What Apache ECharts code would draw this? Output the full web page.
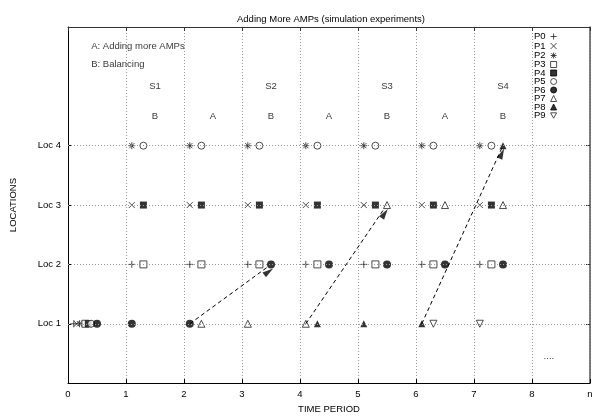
<!DOCTYPE html>
<html>
<head>
<meta charset="utf-8">
<script src="https://cdn.jsdelivr.net/npm/echarts@6/dist/echarts.min.js"></script>
<style>html,body{margin:0;padding:0;background:#fff}#c{width:597px;height:419px}</style>
</head>
<body>
<div id="c"></div>
<script>
// ---- data ----
var xTickLabels = ['0','1','2','3','4','5','6','7','8','n'];
var yTickLabels = ['Loc 1','Loc 2','Loc 3','Loc 4'];
var yTickValues = [1,2,3,4];
var seriesNames = ['P0','P1','P2','P3','P4','P5','P6','P7','P8','P9'];
var P0 = [[0.1,1],[1.1,2],[2.1,2],[3.1,2],[4.1,2],[5.1,2],[6.1,2],[7.1,2]];
var P1 = [[0.15,1],[1.1,3],[2.1,3],[3.1,3],[4.1,3],[5.1,3],[6.1,3],[7.1,3]];
var P2 = [[0.2,1],[1.1,4],[2.1,4],[3.1,4],[4.1,4],[5.1,4],[6.1,4],[7.1,4]];
var P3 = [[0.3,1],[1.3,2],[2.3,2],[3.3,2],[4.3,2],[5.3,2],[6.3,2],[7.3,2]];
var P4 = [[0.35,1],[1.3,3],[2.3,3],[3.3,3],[4.3,3],[5.3,3],[6.3,3],[7.3,3]];
var P5 = [[0.4,1],[1.3,4],[2.3,4],[3.3,4],[4.3,4],[5.3,4],[6.3,4],[7.3,4]];
var P6 = [[0.5,1],[1.1,1],[2.1,1],[3.5,2],[4.5,2],[5.5,2],[6.5,2],[7.5,2]];
var P7 = [[2.3,1],[3.1,1],[4.1,1],[5.5,3],[6.5,3],[7.5,3]];
var P8 = [[4.3,1],[5.1,1],[6.1,1],[7.5,4]];
var P9 = [[6.3,1],[7.1,1]];
var arrowStart = [[2.1,1],[4.1,1],[6.1,1]];
var arrowEnd = [[3.46,1.97],[5.46,2.95],[7.48,3.96]];
var stageLabels = ['S1','S2','S3','S4'];
var stageX = [1.5,3.5,5.5,7.5];
var stageY = 5;
var phaseLabels = ['B','A','B','A','B','A','B'];
var phaseX = [1.5,2.5,3.5,4.5,5.5,6.5,7.5];
var phaseY = 4.5;
var notes = [['A: Adding more AMPs',0.4,5.67],['B: Balancing',0.4,5.37],['....',8.2,0.45]];

// ---- style ----
var FONT = '"Liberation Sans", Arial, sans-serif';
var FS = 9.5;
var PLUS = 'path://M0,-1L0,1M-1,0L1,0';
var CROSS = 'path://M-1,-1L1,1M-1,1L1,-1';
var STAR = 'path://M0,-1L0,1M-1,0L1,0M-0.75,-0.75L0.75,0.75M-0.75,0.75L0.75,-0.75';
var TRI_DOWN = 'path://M-1,-0.9L1,-0.9L0,0.9Z';
var open = {color:'#fff', borderColor:'#222', borderWidth:1};
var filled = {color:'#000', borderColor:'#000', borderWidth:0};
var stroke = {color:'none', borderColor:'#222', borderWidth:1};
var styles = [
  {symbol:PLUS, itemStyle:stroke, size:7},
  {symbol:CROSS, itemStyle:stroke, size:6},
  {symbol:STAR, itemStyle:stroke, size:7},
  {symbol:'rect', itemStyle:open, size:7},
  {symbol:'rect', itemStyle:filled, size:7},
  {symbol:'circle', itemStyle:open, size:7},
  {symbol:'circle', itemStyle:filled, size:8},
  {symbol:'triangle', itemStyle:open, size:7},
  {symbol:'triangle', itemStyle:filled, size:7},
  {symbol:TRI_DOWN, itemStyle:open, size:7}
];
var dataSets = [P0,P1,P2,P3,P4,P5,P6,P7,P8,P9];

var series = [];
// horizontal grid lines
series.push({
  type:'scatter', data:[], silent:true, z:1,
  markLine:{silent:true, symbol:'none', animation:false,
    label:{show:false},
    lineStyle:{color:'#999', type:[1,2], width:1},
    data: yTickValues.map(function(v){return {yAxis:v};})}
});
// arrow shafts
series.push({
  type:'lines', coordinateSystem:'cartesian2d', z:6, silent:true,
  symbol:['none','none'],
  lineStyle:{color:'#000', width:1, type:[4,3], opacity:1},
  data: arrowStart.map(function(a,i){return {coords:[a, arrowEnd[i]]};})
});
seriesNames.forEach(function(n,i){
  var s = styles[i];
  series.push({
    name:n, type:'scatter', z:4, data:dataSets[i],
    symbol:s.symbol, symbolSize:s.size,
    itemStyle:s.itemStyle, silent:true
  });
});
function textSeries(items, pos){
  return {
    type:'scatter', z:5, silent:true, symbolSize:0,
    data: items.map(function(t){return {name:t[0], value:[t[1],t[2]]};}),
    label:{show:true, position:pos, distance:0, formatter:'{b}',
      color:'#000', fontSize:FS, fontFamily:FONT}
  };
}
series.push(textSeries(stageLabels.map(function(t,i){return [t,stageX[i],stageY];}),'inside'));
series.push(textSeries(phaseLabels.map(function(t,i){return [t,phaseX[i],phaseY];}),'inside'));
series.push(textSeries(notes,'right'));

var chart = echarts.init(document.getElementById('c'), null, {renderer:'canvas'});
chart.setOption({
  animation:false,
  backgroundColor:'#fff',
  title:{text:'Adding More AMPs (simulation experiments)', left:232, top:9,
    textStyle:{fontSize:FS, fontWeight:'normal', color:'#000', fontFamily:FONT}},
  legend:{
    data:seriesNames, orient:'vertical', left:534, top:31, align:'right',
    itemWidth:6, itemHeight:6, itemGap:-1.5, padding:0, selectedMode:false,
    itemStyle:{borderWidth:1},
    textStyle:{fontSize:FS, color:'#000', fontFamily:FONT, width:23}
  },
  grid:{left:62, right:7, top:27, bottom:29, containLabel:false},
  xAxis:[{
    type:'value', min:0, max:9, interval:1, position:'bottom',
    name:'TIME PERIOD', nameLocation:'middle', nameGap:17,
    nameTextStyle:{fontSize:FS, color:'#000', fontFamily:FONT},
    axisLine:{show:true, onZero:false, lineStyle:{color:'#000', width:1}},
    axisTick:{show:true, inside:true, length:4, lineStyle:{color:'#000'}},
    axisLabel:{fontSize:FS, color:'#000', fontFamily:FONT, margin:6,
      formatter:function(v){return xTickLabels[v];}},
    splitLine:{show:true, lineStyle:{color:'#999', type:[1,2], width:1}}
  },{
    type:'value', min:0, max:9, interval:1, position:'top',
    axisLine:{show:true, onZero:false, lineStyle:{color:'#333', width:1}},
    axisTick:{show:true, inside:true, length:4, lineStyle:{color:'#333'}},
    axisLabel:{show:false}, splitLine:{show:false}
  }],
  yAxis:[{
    type:'value', min:0, max:6, interval:1, position:'left',
    name:'LOCATIONS', nameLocation:'middle', nameGap:50, nameRotate:90,
    nameTextStyle:{fontSize:FS, color:'#000', fontFamily:FONT},
    axisLine:{show:true, onZero:false, lineStyle:{color:'#000', width:1}},
    axisTick:{show:true, inside:true, length:4, customValues:yTickValues, lineStyle:{color:'#000'}},
    axisLabel:{fontSize:FS, color:'#000', fontFamily:FONT, margin:7, customValues:yTickValues,
      formatter:function(v){return yTickLabels[v-1] || '';}},
    splitLine:{show:false}
  },{
    type:'value', min:0, max:6, interval:1, position:'right',
    axisLine:{show:true, onZero:false, lineStyle:{color:'#555', width:1.5}},
    axisTick:{show:true, inside:true, length:4, customValues:yTickValues, lineStyle:{color:'#333'}},
    axisLabel:{show:false}, splitLine:{show:false}
  }],
  series:series
});

// arrowheads: orientation derived from the axis scales
var heads = arrowEnd.map(function(e,i){
  var p0 = chart.convertToPixel({gridIndex:0}, arrowStart[i]);
  var p1 = chart.convertToPixel({gridIndex:0}, e);
  var ang = Math.atan2(-(p1[1]-p0[1]), p1[0]-p0[0]) * 180 / Math.PI;
  return {value:e, symbolRotate: ang - 90};
});
series.push({
  type:'scatter', z:7, silent:true, data:heads,
  symbol:'triangle', symbolSize:[6,11], symbolOffset:[0,'50%'],
  itemStyle:{color:'#000'}
});
chart.setOption({series:series});
</script>
</body>
</html>
